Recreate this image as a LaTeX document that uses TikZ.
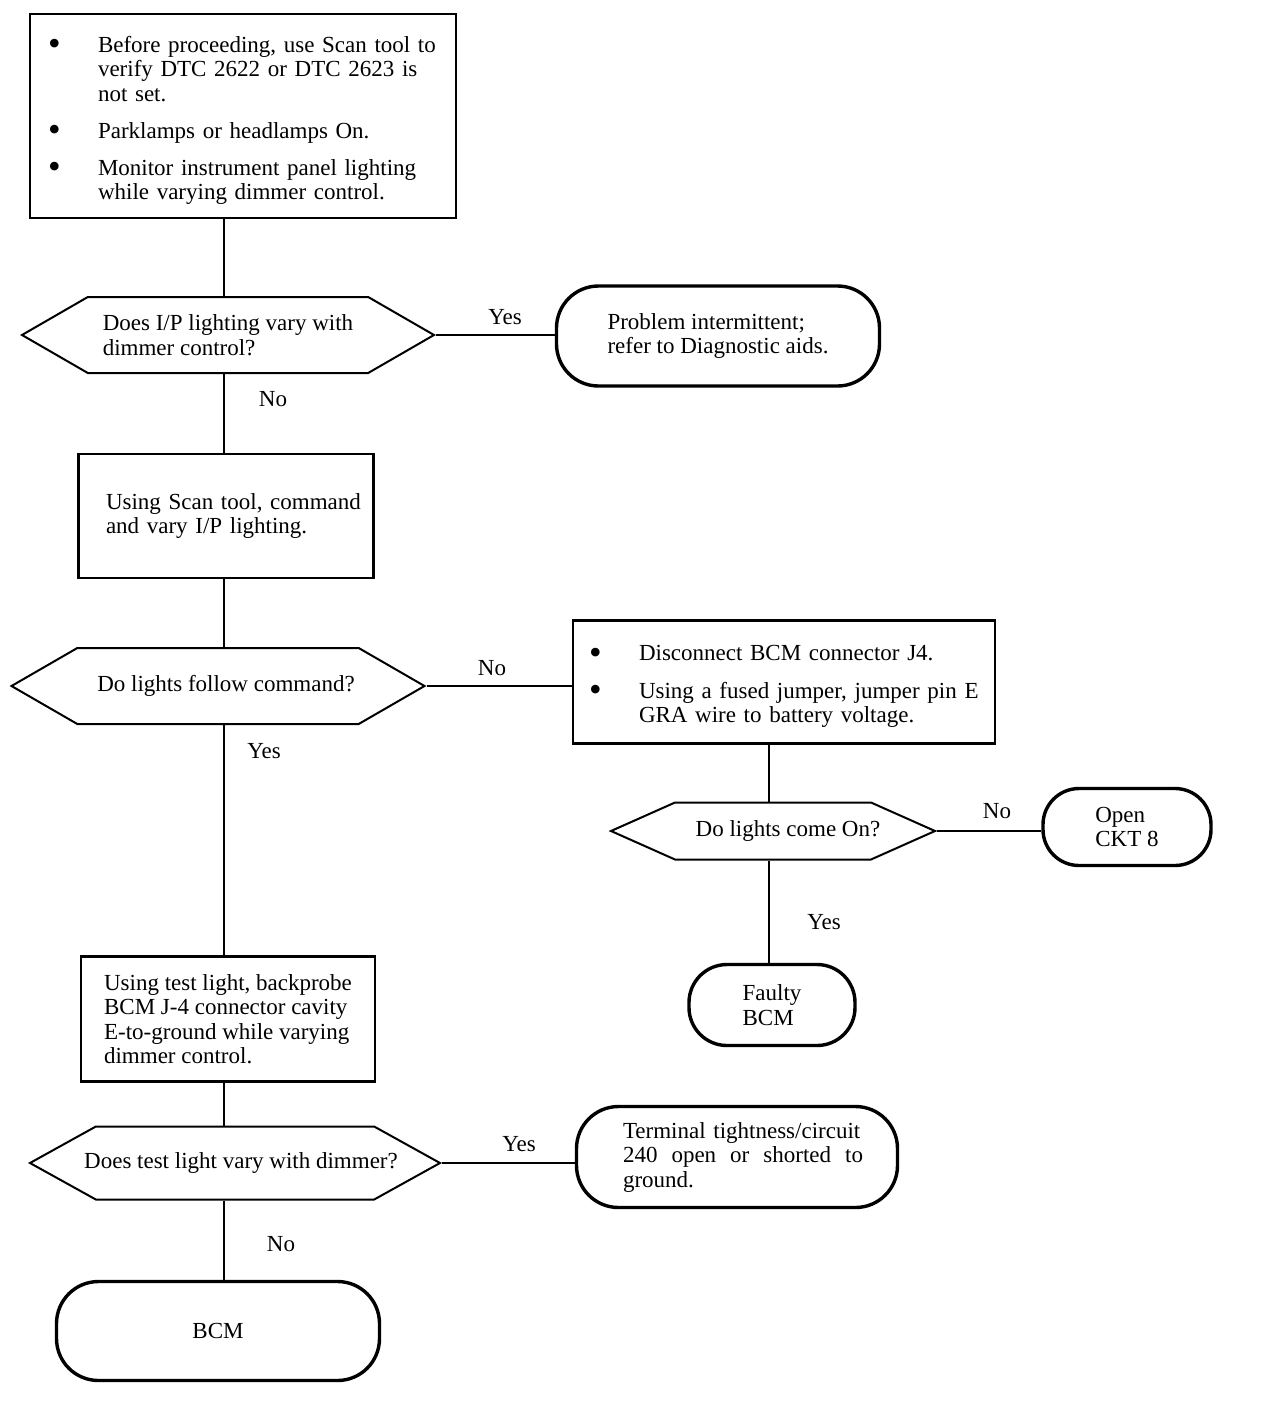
\documentclass[tikz,border=0pt]{standalone}
\usepackage{fontspec}
\setmainfont{Liberation Serif}
\usetikzlibrary{shapes.symbols}

\newcommand{\bulmark}{\raisebox{-3.5pt}{\fontsize{36}{24}\selectfont\textbullet}}
\newcommand{\nl}{\hfil\break}
\newcommand{\bulitem}[1]{\par\hangindent=50pt\hangafter=1\noindent\makebox[50pt][l]{\bulmark}#1\par}
\newcommand{\nudge}[2]{\hbox{\kern#1\relax#2\kern-#1\relax}}

\tikzset{
  chartfont/.style={font=\fontsize{23}{24.5}\selectfont},
  stepbox/.style={chartfont, draw, line width=2.8pt, rectangle, inner sep=0pt, align=left},
  decision/.style={chartfont, draw, line width=2pt, signal, signal to=west and east, signal pointer angle=60, inner sep=0pt, align=left},
  terminal/.style={chartfont, draw, line width=3.4pt, rectangle, rounded corners=42pt, inner sep=0pt, align=left},
  answer/.style={chartfont, inner sep=0pt},
  link/.style={line width=1.5pt}
}

\begin{document}
\begin{tikzpicture}[x=1pt, y=-1pt]
\useasboundingbox (0,0) rectangle (1264,1408);
\coordinate (spine) at (224,0);
\coordinate (branch) at (769,0);

% boxes down the main line
\node[stepbox, minimum width=426pt, minimum height=204pt, text width=390pt] (start) at (243,116) {%
  \bulitem{Before proceeding, use Scan tool to\nl verify DTC 2622 or DTC 2623 is\nl not set.}\vspace{12.5pt}
  \bulitem{Parklamps or headlamps On.}\vspace{12.5pt}
  \bulitem{Monitor instrument panel lighting\nl while varying dimmer control.}};
\node[decision, minimum width=412pt, minimum height=76pt] (askA) at (228,335) {Does I/P lighting vary with\\dimmer control?};
\node[terminal, minimum width=323pt, minimum height=100pt] (endA) at (718,336) {Problem intermittent;\\refer to Diagnostic aids.};
\node[stepbox, minimum width=295pt, minimum height=124pt, text width=270pt] (scan) at (226,516) {\hspace*{15pt}Using Scan tool, command\nl \hspace*{15pt}and vary I/P lighting.};
\node[decision, minimum width=413pt, minimum height=76pt] (askB) at (218,686) {\nudge{8pt}{Do lights follow command?}};

% right branch
\node[stepbox, minimum width=422pt, minimum height=123pt, text width=390pt] (jump) at (784,682) {%
  \bulitem{Disconnect BCM connector J4.}\vspace{13pt}
  \bulitem{Using a fused jumper, jumper pin E\nl GRA wire to battery voltage.}};
\node[decision, signal pointer angle=48, minimum width=324pt, minimum height=57pt] (askC) at (773,831) {\nudge{15pt}{Do lights come On?}};
\node[terminal, rounded corners=36pt, minimum width=168pt, minimum height=77pt] (openckt) at (1127,827) {Open\\CKT 8};
\node[terminal, rounded corners=38pt, minimum width=166pt, minimum height=81pt] (faulty) at (772,1005) {Faulty\\BCM};

% lower part
\node[stepbox, minimum width=294pt, minimum height=125pt] (probe) at (228,1019) {Using test light, backprobe\\BCM J-4 connector cavity\\E-to-ground while varying\\dimmer control.};
\node[decision, signal pointer angle=58, inner xsep=-25pt, minimum width=410pt, minimum height=73pt] (askD) at (235,1163) {\nudge{6pt}{Does test light vary with dimmer?}};
\node[terminal, minimum width=321pt, minimum height=101pt, text width=262pt] (endD) at (737,1157) {\hspace*{17pt}Terminal tightness/circuit\nl
  \hspace*{17pt}\hbox to 240pt{240\hfill open\hfill or\hfill shorted\hfill to}\nl \hspace*{17pt}ground.};
\node[terminal, align=center, minimum width=323pt, minimum height=99pt] (bcm) at (218,1331) {BCM};

% connectors
\draw[link] (start.south -| spine) -- (askA.north -| spine);
\draw[link] (askA.south -| spine) -- (scan.north -| spine);
\draw[link] (scan.south -| spine) -- (askB.north -| spine);
\draw[link] (askB.south -| spine) -- (probe.north -| spine);
\draw[link] (probe.south -| spine) -- (askD.north -| spine);
\draw[link] (askD.south -| spine) -- (bcm.north -| spine);
\draw[link] (askA.east) -- (askA.east -| endA.west);
\draw[link] (askB.east) -- (askB.east -| jump.west);
\draw[link] (jump.south -| branch) -- (askC.north -| branch);
\draw[link] (askC.east) -- (askC.east -| openckt.west);
\draw[link] (askC.south -| branch) -- (faulty.north -| branch);
\draw[link] (askD.east) -- (askD.east -| endD.west);

% answers
\node[answer] (yesA) at (505,317) {Yes};
\node[answer] (noA) at (273,399) {No};
\node[answer] (noB) at (492,668) {No};
\node[answer] (yesB) at (264,751) {Yes};
\node[answer] (noC) at (997,811) {No};
\node[answer] (yesC) at (824,922) {Yes};
\node[answer] (yesD) at (519,1144) {Yes};
\node[answer] (noD) at (281,1244) {No};
\end{tikzpicture}
\end{document}
